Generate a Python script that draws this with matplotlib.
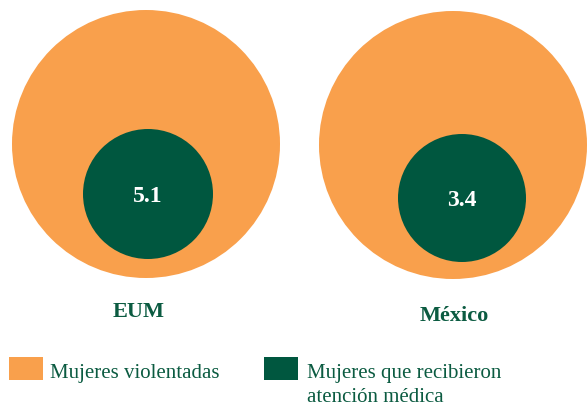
import matplotlib.pyplot as plt
from matplotlib.patches import Circle, Rectangle

# data
regions = ['EUM', 'México']
values = [5.1, 3.4]
legend_labels = ['Mujeres violentadas', 'Mujeres que recibieron', 'atención médica']

orange = '#F9A04C'
green = '#00573F'
text_green = '#0B5B41'

fig = plt.figure(figsize=(5.88, 4.08), dpi=100)
ax = fig.add_axes([0, 0, 1, 1])
ax.set_xlim(0, 588)
ax.set_ylim(408, 0)
ax.axis('off')

# big circle centres / radii, small circle centres / radii
big = [(146, 144, 134), (453, 145, 134)]
small = [(148, 194, 65), (462, 198, 64)]
label_pos = [(139, 312), (454, 316)]

for i, (name, v) in enumerate(zip(regions, values)):
    bx, by, br = big[i]
    ax.add_patch(Circle((bx, by), br, color=orange, lw=0))
    sx, sy, sr = small[i]
    ax.add_patch(Circle((sx, sy), sr, color=green, lw=0))
    ax.text(sx, sy + 2, f'{v:.1f}', color='white', fontsize=17, fontweight='bold',
            family='Liberation Serif', ha='center', va='center')
    lx, ly = label_pos[i]
    ax.text(lx, ly, name, color=text_green, fontsize=16, fontweight='bold',
            family='Liberation Serif', ha='center', va='center')

# legend
ax.add_patch(Rectangle((9, 357), 34, 23, color=orange, lw=0))
ax.text(50, 378, legend_labels[0], color=text_green, fontsize=15,
        family='Liberation Serif', ha='left', va='baseline')
ax.add_patch(Rectangle((264, 357), 34, 23, color=green, lw=0))
ax.text(307, 378, legend_labels[1], color=text_green, fontsize=15,
        family='Liberation Serif', ha='left', va='baseline')
ax.text(307, 402, legend_labels[2], color=text_green, fontsize=15,
        family='Liberation Serif', ha='left', va='baseline')

fig.savefig('out.png', dpi=100)
